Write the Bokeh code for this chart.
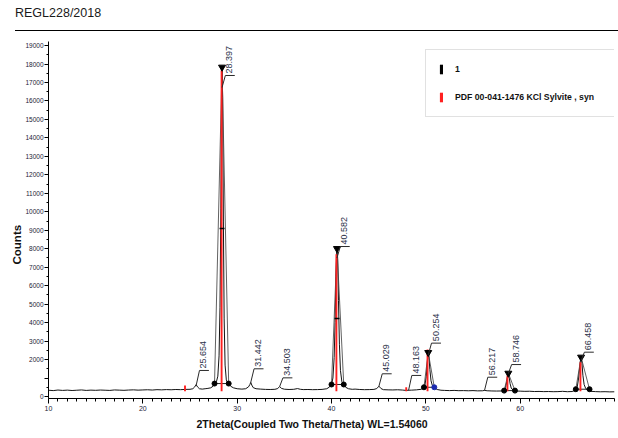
import math
from bokeh.plotting import figure
from bokeh.models import Range1d, FixedTicker, Legend, LegendItem, Title, Div
from bokeh.layouts import column
from bokeh.embed import file_html
from bokeh.resources import INLINE
from bokeh.core.properties import value

# ---------------- data ----------------
TITLE = "REGL228/2018"
X_LABEL = "2Theta(Coupled Two Theta/Theta) WL=1.54060"
Y_LABEL = "Counts"
SERIES_NAMES = ["1", "PDF 00-041-1476 KCl Sylvite , syn"]

two_theta = [10.0, 10.5, 11.0, 11.5, 12.0, 12.5, 13.0, 13.5, 14.0, 14.5, 15.0, 15.5, 16.0, 16.5,
             17.0, 17.5, 18.0, 18.5, 19.0, 19.5, 20.0, 20.5, 21.0, 21.5, 22.0, 22.5, 23.0, 23.5,
             24.0, 24.5, 25.0, 25.3, 25.5, 25.65, 25.8, 26.0, 26.3, 26.6, 26.9, 27.2, 27.45, 27.6,
             27.8, 27.95, 28.08, 28.18, 28.27, 28.34, 28.40, 28.46, 28.54, 28.62, 28.72, 28.85,
             29.0, 29.1, 29.3, 29.6, 30.0, 30.5, 30.9, 31.2, 31.35, 31.44, 31.55, 31.7, 32.0,
             32.5, 33.0, 33.5, 34.0, 34.3, 34.5, 34.7, 35.0, 35.5, 36.0, 36.4, 36.7, 37.0, 37.5,
             38.0, 38.5, 39.0, 39.5, 39.8, 40.0, 40.15, 40.28, 40.38, 40.47, 40.55, 40.60, 40.66,
             40.74, 40.84, 40.95, 41.1, 41.3, 41.5, 41.8, 42.2, 42.5, 43.0, 43.5, 44.0, 44.5,
             44.8, 45.03, 45.25, 45.5, 46.0, 46.5, 47.0, 47.5, 47.9, 48.16, 48.5, 49.0, 49.5,
             49.75, 49.9, 50.05, 50.15, 50.25, 50.33, 50.43, 50.55, 50.7, 50.9, 51.2, 51.6, 52.0,
             52.5, 53.0, 53.5, 54.0, 54.5, 55.0, 55.5, 56.0, 56.22, 56.5, 57.0, 57.5, 58.0, 58.3,
             58.45, 58.58, 58.68, 58.75, 58.83, 58.93, 59.05, 59.25, 59.5, 60.0, 60.5, 61.0, 61.5,
             62.0, 62.5, 63.0, 63.5, 64.0, 64.5, 65.0, 65.5, 65.85, 66.05, 66.2, 66.32, 66.42,
             66.47, 66.55, 66.65, 66.78, 66.95, 67.2, 67.5, 68.0, 68.5, 69.0, 69.5, 70.0]
counts = [340, 320, 350, 330, 345, 325, 340, 355, 330, 345, 335, 350, 340, 330,
          355, 345, 335, 350, 360, 345, 355, 365, 350, 370, 360, 375, 365, 380,
          370, 385, 390, 420, 520, 640, 520, 420, 400, 420, 440, 470, 560, 680,
          800, 1100, 2200, 4800, 10200, 15800, 17830, 16200, 9500, 4200, 1700, 900,
          720, 680, 560, 470, 420, 400, 420, 520, 650, 770, 620, 480, 420,
          400, 385, 380, 390, 430, 540, 440, 395, 380, 390, 430, 390, 375, 380,
          370, 375, 385, 420, 520, 640, 1000, 2100, 4000, 6500, 7900, 8010, 7400,
          5200, 2800, 1400, 800, 640, 500, 420, 390, 400, 380, 370, 375, 385,
          430, 560, 430, 370, 360, 355, 365, 350, 330, 340, 345, 360, 390,
          470, 600, 1100, 1800, 2380, 2150, 1450, 850, 580, 480, 380, 340, 330,
          320, 330, 315, 320, 310, 320, 305, 310, 330, 310, 300, 295, 300, 330,
          480, 800, 1150, 1260, 1050, 700, 460, 340, 300, 290, 280, 285, 270,
          275, 265, 270, 260, 265, 280, 260, 270, 330, 520, 1000, 1650, 2080,
          2130, 1800, 1150, 650, 430, 340, 280, 265, 255, 260, 250, 255]

# labelled peaks (2theta value, where the leader starts, height of the label shelf)
peak_labels = ["25.654", "28.397", "31.442", "34.503", "40.582", "45.029",
               "48.163", "50.254", "56.217", "58.746", "66.458"]
peak_pos = [25.654, 28.397, 31.442, 34.503, 40.582, 45.029, 48.163, 50.254, 56.217, 58.746, 66.458]
leader_start = [600, 16730, 770, 540, 7500, 560, 320, 2250, 320, 1240, 1950]
label_level = [1410, 17380, 1500, 1010, 8120, 1230, 1140, 2890, 1045, 1730, 2400]

# fitted peaks: top markers, base points
marker_pos = [28.397, 40.582, 50.254, 58.746, 66.458]
marker_top = [17830, 8010, 2380, 1260, 2130]
base_left_x = [27.6, 40.0, 49.8, 58.3, 65.9]
base_right_x = [29.1, 41.3, 50.9, 59.45, 67.35]
base_y = [700, 650, 500, 320, 395]
base_right_color = ["black", "black", "#1c2bb0", "black", "black"]
half_x = [28.397, 40.582]
half_y = [9100, 4220]

# reference pattern sticks (KCl sylvite)
ref_pos = [24.47, 28.35, 40.52, 47.92, 50.18, 58.65, 66.39]
ref_top = [600, 17650, 7700, 500, 2545, 1140, 1860]
REF_BASE = 280

x_major = [10, 20, 30, 40, 50, 60]
x_minor = list(range(10, 71))
y_major = list(range(0, 19001, 1000))
y_minor = list(range(0, 19501, 500))

# ---------------- styles ----------------
FONT = "'Liberation Sans', Arial, sans-serif"
TXT = "#1c2236"
LEAD_DX = 0.35
SHELF_W = 1.0

# header (title + rule)
hdr = Div(width=618, height=36, margin=(0, 0, 0, 0),
          text=("<div style='position:relative;width:618px;height:36px;margin:0;padding:0;'>"
                "<div style=\"position:absolute;left:15px;top:6px;font-family:'Liberation Sans',Arial,sans-serif;"
                "font-size:12.5px;line-height:15px;color:#1a1a1a;white-space:nowrap;\">" + TITLE + "</div>"
                "<div style='position:absolute;left:15px;top:30px;width:603px;height:0;"
                "border-top:1.5px solid #000;'></div></div>"))

# main plot
p = figure(width=618, height=402, x_range=Range1d(10, 70), y_range=Range1d(-108, 19220),
           output_backend="svg", toolbar_location=None,
           min_border_left=48, min_border_right=4, min_border_top=5, min_border_bottom=40)
p.outline_line_color = None
p.grid.visible = False

xa = p.xaxis[0]
xa.ticker = FixedTicker(ticks=x_major, minor_ticks=x_minor)
xa.major_tick_out = 5
xa.major_tick_in = 0
xa.minor_tick_out = 3
xa.minor_tick_in = 0
xa.major_label_standoff = 2
xa.major_label_text_font = FONT
xa.major_label_text_font_size = "7px"
xa.major_label_text_color = TXT
xa.axis_line_color = "black"

ya = p.yaxis[0]
ya.ticker = FixedTicker(ticks=y_major, minor_ticks=y_minor)
ya.major_label_overrides = {1000: ""}
ya.major_tick_out = 4
ya.major_tick_in = 0
ya.minor_tick_out = 2
ya.minor_tick_in = 0
ya.major_label_standoff = 1
ya.major_label_text_font = FONT
ya.major_label_text_font_size = "6.5px"
ya.major_label_text_color = TXT
ya.axis_line_color = "black"

# trace
p.line(two_theta, counts, line_color="#141414", line_width=1)

# fit outlines
p.multi_line(xs=[[a, m, b] for a, m, b in zip(base_left_x, marker_pos, base_right_x)],
             ys=[[by, mt, by] for by, mt in zip(base_y, marker_top)],
             line_color="#3a3a3a", line_width=0.8)
p.segment(x0=base_left_x, y0=base_y, x1=base_right_x, y1=base_y, line_color="#222", line_width=1)

# reference sticks
r_black = p.vbar(x=marker_pos, top=base_y, bottom=base_y, width=0.0,
                 fill_color="black", line_color=None)
r_red = p.vbar(x=ref_pos, top=ref_top, bottom=REF_BASE, width=0.2,
               fill_color="#ff2020", line_color=None)

# markers
p.scatter(marker_pos, marker_top, marker="inverted_triangle", size=7, color="black")
p.scatter(base_left_x, base_y, marker="circle", size=5, color="black")
p.scatter(base_right_x, base_y, marker="circle", size=5, color=base_right_color)
p.scatter(half_x, half_y, marker="dash", size=5, line_color="black", line_width=1.5)

# leaders and peak labels
p.multi_line(xs=[[x, x + LEAD_DX, x + LEAD_DX + SHELF_W] for x in peak_pos],
             ys=[[s, l, l] for s, l in zip(leader_start, label_level)],
             line_color="#2a2a2a", line_width=1)
p.text(x=[x + LEAD_DX for x in peak_pos], y=label_level, text=peak_labels,
       angle=math.pi / 2, x_offset=4, y_offset=-2,
       text_align="left", text_baseline="middle",
       text_font=value(FONT), text_font_size="9px", text_color="#2a3048")

# legend
legend = Legend(items=[LegendItem(label=SERIES_NAMES[0], renderers=[r_black]),
                       LegendItem(label=SERIES_NAMES[1], renderers=[r_red])],
                location=(377, 281))
legend.glyph_width = 4
legend.glyph_height = 12
legend.label_height = 12
legend.label_width = 147
legend.label_standoff = 12
legend.spacing = 16
legend.padding = 13
legend.margin = 0
legend.border_line_color = "#c4c4c4"
legend.border_line_width = 1.5
legend.background_fill_color = "white"
legend.background_fill_alpha = 1
legend.label_text_font = FONT
legend.label_text_font_style = "bold"
legend.label_text_font_size = "8.7px"
legend.label_text_color = "#111"
p.add_layout(legend)

# axis titles
p.add_layout(Title(text=X_LABEL, align="left", offset=148, standoff=4,
                   text_font=FONT, text_font_style="bold", text_font_size="10.5px",
                   text_color="#111"), "below")
p.add_layout(Title(text=Y_LABEL, align="left", offset=134, standoff=0,
                   text_font=FONT, text_font_style="bold", text_font_size="11.5px",
                   text_color="#111"), "left")

layout = column(hdr, p, spacing=0)
open("out.html", "w").write(file_html(layout, INLINE))
